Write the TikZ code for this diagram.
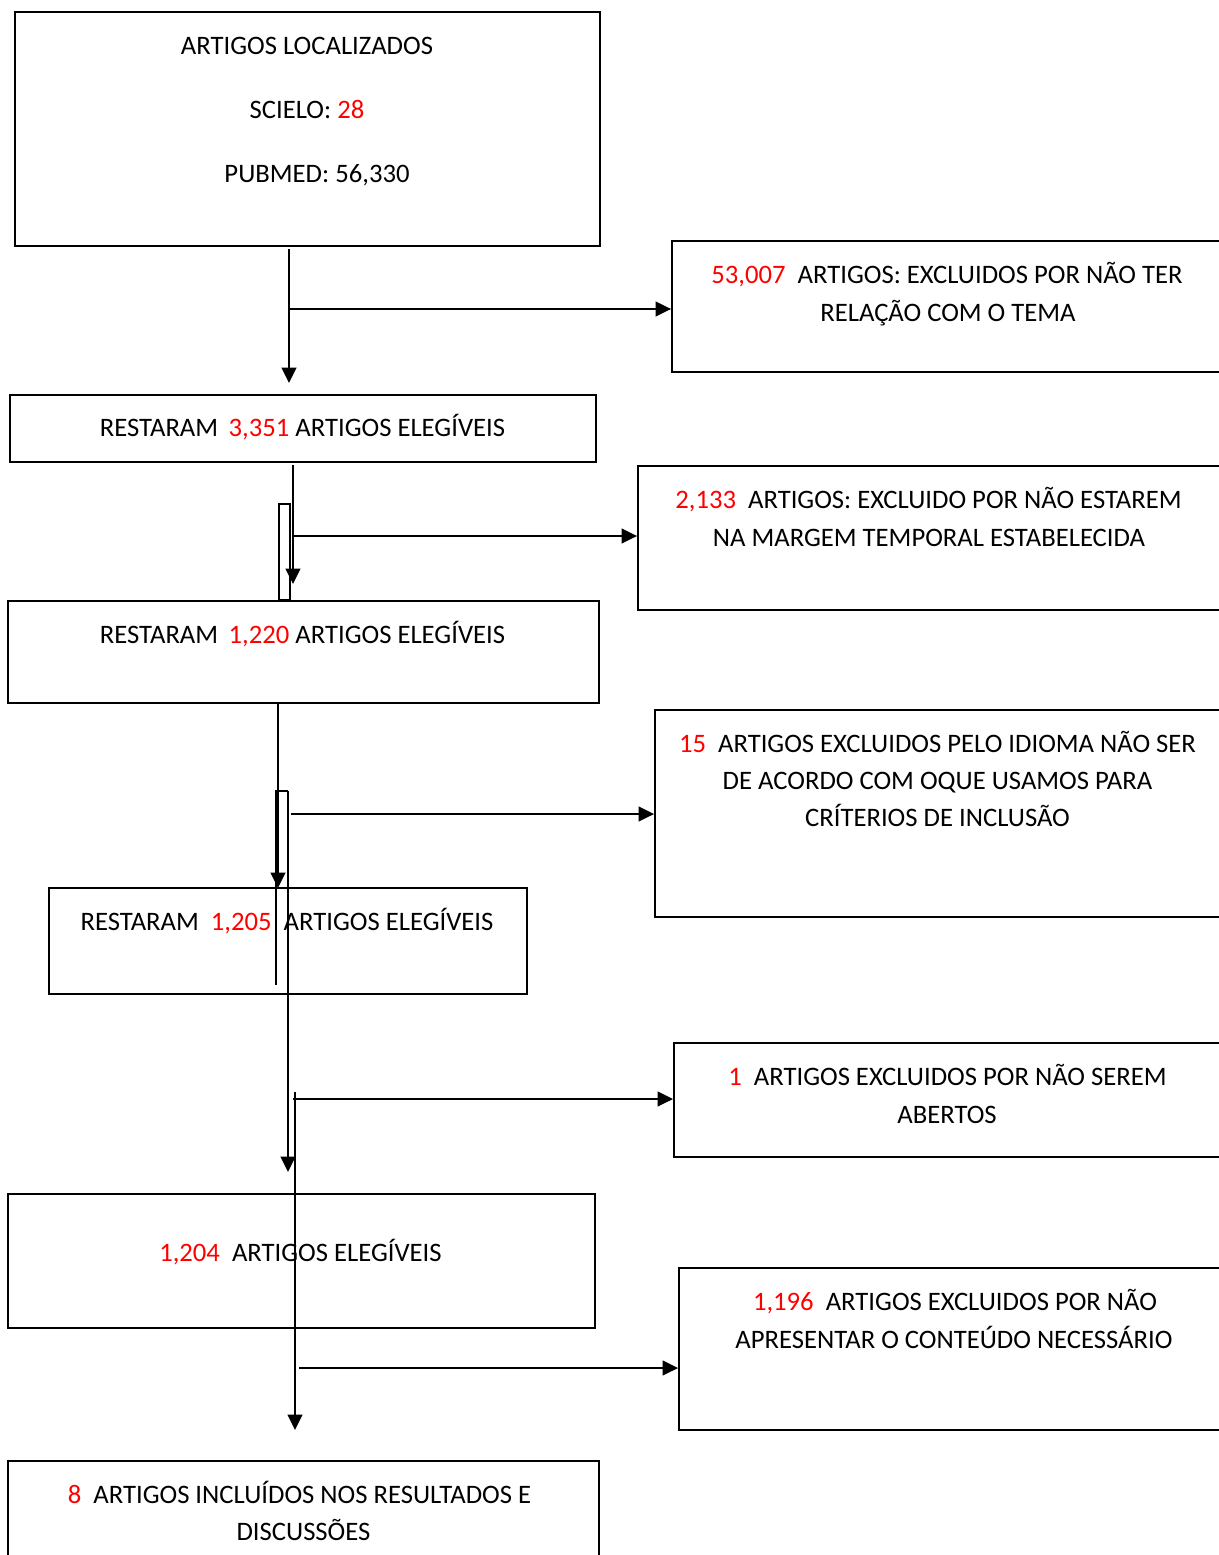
\documentclass[tikz,border=0pt]{standalone}
\usepackage{fontspec}
\setmainfont{Carlito}
\usetikzlibrary{arrows.meta,fit}
\definecolor{numred}{RGB}{255,0,0}
\begin{document}
\begin{tikzpicture}[x=0.75pt,y=-0.75pt,
  box/.style={draw=black,line width=1.4pt,inner sep=0pt},
  slim/.style={draw=black,line width=1.1pt},
  conn/.style={draw=black,line width=1.3pt},
  arr/.style={conn,-{Triangle[length=11.5pt,width=11pt]}},
  txt/.style={anchor=base,inner sep=0pt,font=\fontsize{20pt}{24pt}\selectfont},
  num/.style={text=numred}]
\clip (0,0) rectangle (1219,1555);
\fill[white] (0,0) rectangle (1219,1555);
% boxes
\node[box,fit={(15,12) (600,246)}] (b1) {};
\node[box,fit={(672,241) (1240,372)}] (b2) {};
\node[box,fit={(10,395) (596,462)}] (b3) {};
\node[box,fit={(638,466) (1240,610)}] (b4) {};
\node[box,fit={(8,601) (599,703)}] (b5) {};
\node[box,fit={(655,710) (1240,917)}] (b6) {};
\node[box,fit={(49,888) (527,994)}] (b7) {};
\node[box,fit={(674,1043) (1240,1157)}] (b8) {};
\node[box,fit={(8,1194) (595,1328)}] (b9) {};
\node[box,fit={(679,1268) (1240,1430)}] (b10) {};
\node[box,fit={(8,1461) (599,1580)}] (b11) {};
% texts
\node[txt] (t1a) at (307,54.5) {ARTIGOS LOCALIZADOS};
\node[txt] (t1b) at (307,118.5) {SCIELO: \textcolor{numred}{28}};
\node[txt] (t1c) at (317,182.5) {PUBMED: 56,330};
\node[txt] (t2a) at (947,283.5) {\textcolor{numred}{53,007}\ \ ARTIGOS: EXCLUIDOS POR NÃO TER};
\node[txt] (t2b) at (948,321.5) {RELAÇÃO COM O TEMA};
\node[txt] (t3) at (302.5,436.5) {RESTARAM\ \,\textcolor{numred}{3,351} ARTIGOS ELEGÍVEIS};
\node[txt] (t4a) at (928.5,508.5) {\textcolor{numred}{2,133}\ \ ARTIGOS: EXCLUIDO POR NÃO ESTAREM};
\node[txt] (t4b) at (929,546.5) {NA MARGEM TEMPORAL ESTABELECIDA};
\node[txt] (t5) at (302.5,643.5) {RESTARAM\ \,\textcolor{numred}{1,220} ARTIGOS ELEGÍVEIS};
\node[txt] (t6a) at (937.5,752.5) {\textcolor{numred}{15}\ \ ARTIGOS EXCLUIDOS PELO IDIOMA NÃO SER};
\node[txt] (t6b) at (937.5,789.5) {DE ACORDO COM OQUE USAMOS PARA};
\node[txt] (t6c) at (937.5,826.5) {CRÍTERIOS DE INCLUSÃO};
\node[txt] (t7) at (287,930.5) {RESTARAM\ \ \textcolor{numred}{1,205}\ \ ARTIGOS ELEGÍVEIS};
\node[txt] (t8a) at (947.5,1085.5) {\textcolor{numred}{1}\ \ ARTIGOS EXCLUIDOS POR NÃO SEREM};
\node[txt] (t8b) at (947,1123.5) {ABERTOS};
\node[txt] (t9) at (300.5,1261.5) {\textcolor{numred}{1,204}\ \ ARTIGOS ELEGÍVEIS};
\node[txt] (t10a) at (955,1310.5) {\textcolor{numred}{1,196}\ \ ARTIGOS EXCLUIDOS POR NÃO};
\node[txt] (t10b) at (954,1348.5) {APRESENTAR O CONTEÚDO NECESSÁRIO};
\node[txt] (t11a) at (299.5,1503.5) {\textcolor{numred}{8}\ \ ARTIGOS INCLUÍDOS NOS RESULTADOS E};
\node[txt] (t11b) at (303.5,1540.5) {DISCUSSÕES};
% connector points
\coordinate (v1s) at (289,249);
\coordinate (v1e) at (289,383);
\coordinate (h1s) at (289,309);
\coordinate (v2s) at (293,465);
\coordinate (v2e) at (293,584);
\coordinate (h2s) at (293,536);
\coordinate (v3s) at (278,703);
\coordinate (v3e) at (278,888);
\coordinate (h3s) at (291,814);
\coordinate (v4s) at (288,791);
\coordinate (v4e) at (288,1172);
\coordinate (l4s) at (276,791);
\coordinate (l4e) at (276,985);
\coordinate (v5s) at (295,1092);
\coordinate (v5e) at (295,1430);
\coordinate (h5s) at (293,1099);
\coordinate (h6s) at (299,1368);
% connectors
\draw[arr] (v1s) -- (v1e);
\draw[arr] (h1s) -- (h1s -| b2.west);
\draw[slim] (279,504) rectangle (290,600);
\draw[arr] (v2s) -- (v2e);
\draw[arr] (h2s) -- (h2s -| b4.west);
\draw[arr] (v3s) -- (v3e);
\draw[conn] (l4e) -- (l4s) -- (v4s);
\draw[arr] (v4s) -- (v4e);
\draw[arr] (h3s) -- (h3s -| b6.west);
\draw[arr] (v5s) -- (v5e);
\draw[arr] (h5s) -- (h5s -| b8.west);
\draw[arr] (h6s) -- (h6s -| b10.west);
\end{tikzpicture}
\end{document}
